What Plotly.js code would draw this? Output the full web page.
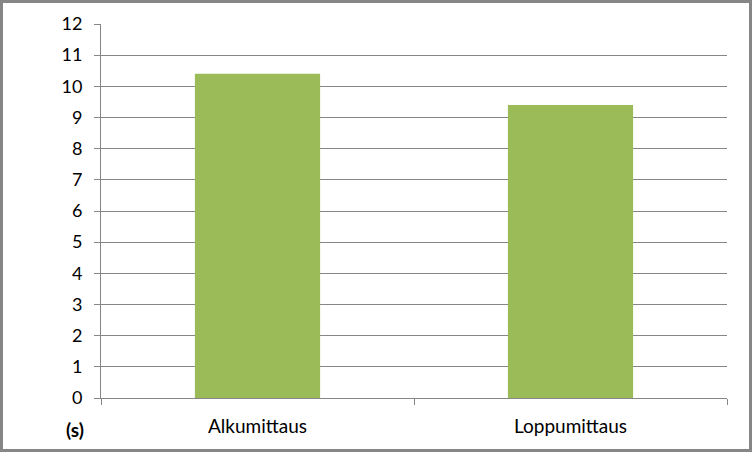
<!DOCTYPE html>
<html><head><meta charset="utf-8">
<script src="https://cdn.plot.ly/plotly-3.0.1.min.js"></script>
<style>
html,body{margin:0;padding:0;background:#fff;}
#wrap{position:relative;width:752px;height:452px;}
#chart{width:752px;height:452px;}
#frame{position:absolute;left:0;top:0;width:752px;height:452px;box-sizing:border-box;border:3px solid #868686;pointer-events:none;}
</style></head>
<body>
<div id="wrap"><div id="chart"></div><div id="frame"></div></div>
<script>
const categories = ["Alkumittaus", "Loppumittaus"];
const values = [10.4, 9.4];
const yTicks = [0,1,2,3,4,5,6,7,8,9,10,11,12];
const unitLabel = "(s)";

const font = "Lato, 'Open Sans', 'Liberation Sans', sans-serif";
Plotly.newPlot("chart", [{
  type: "bar",
  x: categories,
  y: values,
  marker: {color: "#9BBB59"},
  hoverinfo: "none"
}], {
  width: 752, height: 452,
  margin: {l: 101, r: 25, t: 24, b: 54},
  paper_bgcolor: "#fff", plot_bgcolor: "#fff",
  bargap: 0.6,
  showlegend: false,
  font: {family: font, size: 18, color: "#000"},
  xaxis: {
    type: "category",
    showgrid: false,
    showline: true, linecolor: "#868686", linewidth: 1,
    ticks: "outside", tickson: "boundaries", ticklen: 6, tickcolor: "#868686",
    tickfont: {family: font, size: 19, color: "#000"},
    ticklabelstandoff: 11,
    fixedrange: true
  },
  yaxis: {
    range: [0, 12],
    tickvals: yTicks,
    ticktext: yTicks.map(String),
    showgrid: true, gridcolor: "#868686", gridwidth: 1,
    showline: true, linecolor: "#868686", linewidth: 1,
    zeroline: false,
    ticks: "outside", ticklen: 6, tickcolor: "#868686",
    tickfont: {family: font, size: 18, color: "#000"},
    ticklabelstandoff: 8,
    fixedrange: true
  },
  annotations: [{
    text: "<b>" + unitLabel + "</b>",
    xref: "paper", yref: "paper",
    x: -26/626, y: -32/374,
    xanchor: "center", yanchor: "middle",
    showarrow: false,
    font: {family: font, size: 19, color: "#000"}
  }]
}, {displayModeBar: false, staticPlot: true});
</script>
</body></html>
